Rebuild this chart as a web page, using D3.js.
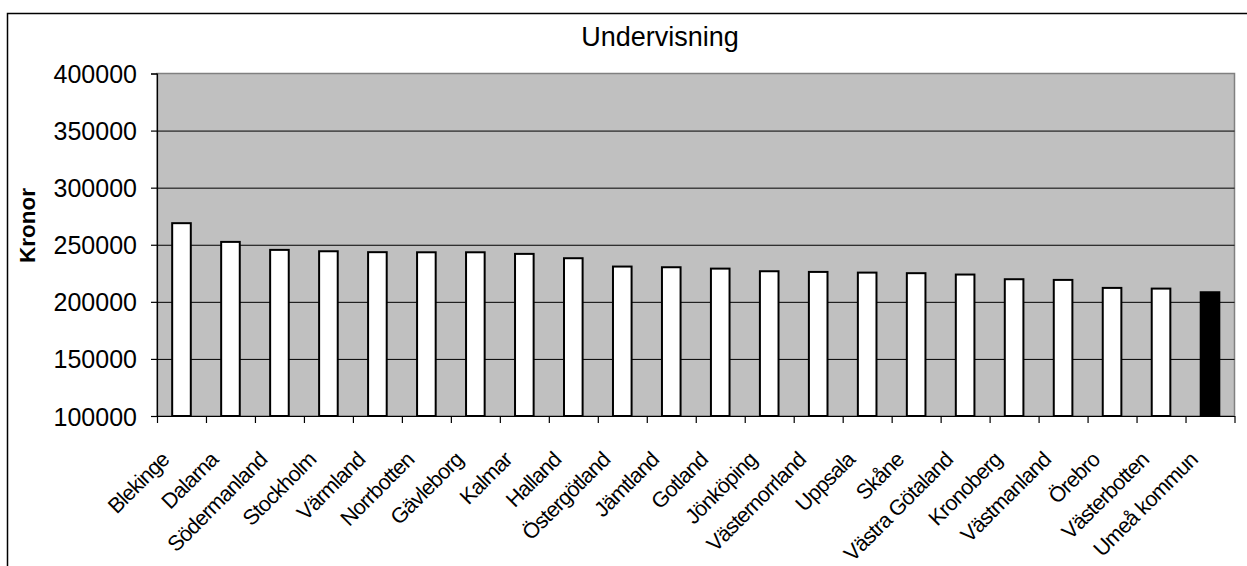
<!DOCTYPE html>
<html>
<head>
<meta charset="utf-8">
<script src="https://cdn.jsdelivr.net/npm/d3@7"></script>
<style>
  body { margin: 0; background: #fff; }
  text { font-family: Arial, "Liberation Sans", sans-serif; fill: #000; }
</style>
</head>
<body>
<div id="chart-container"></div>
<script>
const regions = ["Blekinge", "Dalarna", "Södermanland", "Stockholm", "Värmland", "Norrbotten",
    "Gävleborg", "Kalmar", "Halland", "Östergötland", "Jämtland", "Gotland", "Jönköping",
    "Västernorrland", "Uppsala", "Skåne", "Västra Götaland", "Kronoberg", "Västmanland",
    "Örebro", "Västerbotten", "Umeå kommun"];
const kronor = [268900, 252500, 245500, 244300, 243500, 243400, 243400, 242000, 238200,
    230900, 230300, 229100, 226800, 226200, 225600, 225100, 223900, 219800, 219200,
    212200, 211600, 208400];
const highlight = "Umeå kommun";
const yTicks = [100000, 150000, 200000, 250000, 300000, 350000, 400000];
const chartTitle = "Undervisning";
const yTitle = "Kronor";

const data = regions.map((r, i) => ({ region: r, value: kronor[i] }));

const svgWidth = 1247;
const svgHeight = 566;
const plot = { left: 157, top: 73.5, right: 1234.5, bottom: 416 };

const svg = d3.select("#chart-container")
    .append("svg")
    .attr("width", svgWidth)
    .attr("height", svgHeight);

// outer chart frame (runs off the right/bottom edge)
svg.append("rect")
    .attr("x", 7.5).attr("y", 13.5)
    .attr("width", 1400).attr("height", 700)
    .attr("fill", "#fff")
    .attr("stroke", "#000")
    .attr("stroke-width", 1.5);

const scaleX = d3.scaleBand()
    .domain(regions)
    .range([plot.left, plot.right])
    .paddingInner(0.62)
    .paddingOuter(0.31);

const scaleIdx = d3.scaleLinear()
    .domain([0, regions.length])
    .range([plot.left, plot.right]);

const scaleY = d3.scaleLinear()
    .domain([100000, 400000])
    .range([plot.bottom, plot.top]);

// plot background
svg.append("rect")
    .attr("x", plot.left).attr("y", plot.top)
    .attr("width", plot.right - plot.left)
    .attr("height", plot.bottom - plot.top)
    .attr("fill", "#c0c0c0")
    .attr("stroke", "#808080")
    .attr("stroke-width", 1.5);

// gridlines
svg.append("g")
    .attr("transform", `translate(${plot.left},0)`)
    .call(d3.axisLeft(scaleY).tickValues(yTicks.slice(1, -1)).tickSize(-(plot.right - plot.left)).tickFormat(""))
    .call(g => g.select(".domain").remove())
    .call(g => g.selectAll("line").attr("stroke", "#000").attr("stroke-width", 1));

// bars
svg.selectAll(".bar")
    .data(data)
    .enter()
    .append("rect")
    .attr("class", "bar")
    .attr("x", d => scaleX(d.region))
    .attr("y", d => scaleY(d.value))
    .attr("width", scaleX.bandwidth())
    .attr("height", d => scaleY(100000) - scaleY(d.value))
    .attr("fill", d => d.region === highlight ? "#000" : "#fff")
    .attr("stroke", "#000")
    .attr("stroke-width", 2);

// y axis
const yAxis = svg.append("g")
    .attr("transform", `translate(${plot.left},0)`)
    .call(d3.axisLeft(scaleY).tickValues(yTicks).tickSize(6).tickPadding(14).tickFormat(d3.format("d")));
yAxis.selectAll("text")
    .attr("font-size", "25px")
    .attr("font-family", "Arial, 'Liberation Sans', sans-serif")
    .attr("dy", "0.36em");
yAxis.selectAll("line, path").attr("stroke", "#000").attr("stroke-width", 1.2);

// x axis (ticks between categories)
const xAxis = svg.append("g")
    .attr("transform", `translate(0,${plot.bottom})`)
    .call(d3.axisBottom(scaleIdx).tickValues(d3.range(regions.length + 1)).tickSize(7).tickSizeOuter(0).tickFormat(""));
xAxis.selectAll("line, path").attr("stroke", "#000").attr("stroke-width", 1.2);

// category labels, rotated
svg.append("g")
    .selectAll("text")
    .data(regions)
    .enter()
    .append("text")
    .attr("transform", d => {
        const cx = scaleX(d) + scaleX.bandwidth() / 2 - 11;
        return `translate(${cx},${plot.bottom + 45}) rotate(-45)`;
    })
    .attr("text-anchor", "end")
    .attr("font-size", "21.5px")
    .attr("letter-spacing", "-0.8px")
    .text(d => d);

// title
svg.append("text")
    .attr("x", 660)
    .attr("y", 46)
    .attr("text-anchor", "middle")
    .attr("font-size", "27px")
    .text(chartTitle);

// y title
svg.append("text")
    .attr("transform", "translate(35,225.5) rotate(-90)")
    .attr("text-anchor", "middle")
    .attr("font-size", "22.5px")
    .attr("font-weight", "bold")
    .text(yTitle);
</script>
</body>
</html>
